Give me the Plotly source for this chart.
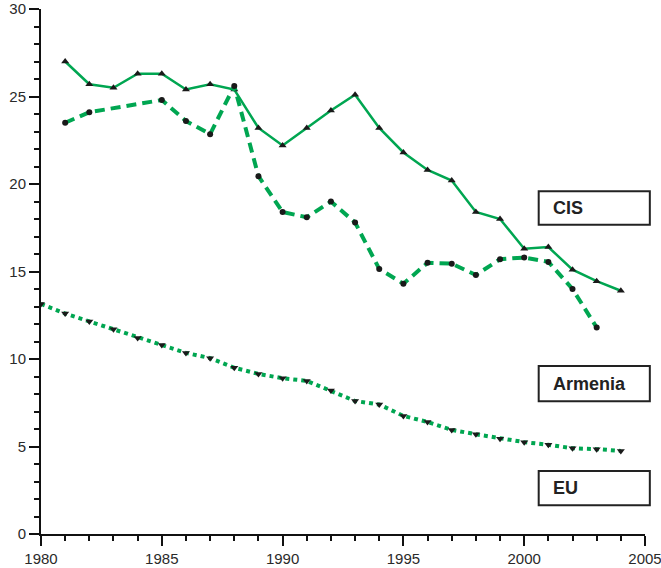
import plotly.graph_objects as go

years = list(range(1980, 2005))

cis = [None, 27.0, 25.7, 25.5, 26.3, 26.3, 25.4, 25.7, 25.4, 23.2, 22.2, 23.2, 24.2,
       25.1, 23.2, 21.8, 20.8, 20.2, 18.4, 18.0, 16.3, 16.4, 15.1, 14.45, 13.9]
armenia = [None, 23.5, 24.1, None, None, 24.8, 23.6, 22.85, 25.6, 20.45, 18.4, 18.1, 19.0,
           17.8, 15.15, 14.3, 15.5, 15.45, 14.8, 15.7, 15.8, 15.55, 14.0, 11.8, None]
eu = [13.15, 12.6, 12.15, 11.7, 11.2, 10.8, 10.35, 10.05, 9.5, 9.15, 8.9, 8.75, 8.2,
      7.6, 7.4, 6.75, 6.4, 5.95, 5.7, 5.45, 5.25, 5.1, 4.9, 4.85, 4.75]

labels = ["CIS", "Armenia", "EU"]

green = "#00a651"
fig = go.Figure()
fig.add_trace(go.Scatter(x=years, y=cis, mode="lines+markers", connectgaps=True,
                         line=dict(color=green, width=2.5),
                         marker=dict(symbol="triangle-up", size=7, color="#1a1a1a")))
fig.add_trace(go.Scatter(x=years, y=armenia, mode="lines+markers", connectgaps=True,
                         line=dict(color=green, width=4, dash="10px,6px"),
                         marker=dict(symbol="circle", size=6, color="#1a1a1a")))
fig.add_trace(go.Scatter(x=years, y=eu, mode="lines+markers", connectgaps=True,
                         line=dict(color=green, width=4, dash="dot"),
                         marker=dict(symbol="triangle-down", size=7, color="#1a1a1a")))

# label boxes (paper coordinates)
boxes = [(0.589, 0.653), (0.253, 0.320), (0.055, 0.120)]
for lab, (y0, y1) in zip(labels, boxes):
    fig.add_shape(type="rect", xref="paper", yref="paper", x0=0.824, x1=1.008,
                  y0=y0, y1=y1, line=dict(color="#222222", width=2),
                  fillcolor="white", layer="above")
    fig.add_annotation(xref="paper", yref="paper", x=0.845, y=(y0 + y1) / 2,
                       text="<b>" + lab + "</b>", showarrow=False, xanchor="left",
                       yanchor="middle",
                       font=dict(family="Liberation Sans, Arial", size=18, color="#222222"))

axis_font = dict(family="Liberation Sans, Arial", size=15, color="#2a2a2a")
fig.update_layout(
    width=661, height=568,
    margin=dict(l=41, r=16, t=9, b=34),
    paper_bgcolor="white", plot_bgcolor="white",
    showlegend=False,
    xaxis=dict(range=[1980, 2005], showgrid=False, zeroline=False, showline=True,
               automargin=False, ticklabeloverflow="allow",
               linecolor="#111111", linewidth=2, ticks="outside", ticklen=10,
               tickwidth=2, tickcolor="#111111", tick0=1980, dtick=5,
               tickfont=axis_font,
               minor=dict(ticks="outside", ticklen=5, tickwidth=2,
                          tickcolor="#111111", dtick=1, showgrid=False)),
    yaxis=dict(range=[0, 30], showgrid=False, zeroline=False, showline=True,
               automargin=False, ticklabeloverflow="allow",
               linecolor="#111111", linewidth=2, ticks="outside", ticklen=10,
               tickwidth=2, tickcolor="#111111", tick0=0, dtick=5,
               tickfont=axis_font,
               minor=dict(ticks="outside", ticklen=5, tickwidth=2,
                          tickcolor="#111111", dtick=1, showgrid=False)),
)

fig.write_html("out.html", config={"displayModeBar": False},
               post_script="document.body.style.margin='0';document.body.style.overflow='hidden';")
